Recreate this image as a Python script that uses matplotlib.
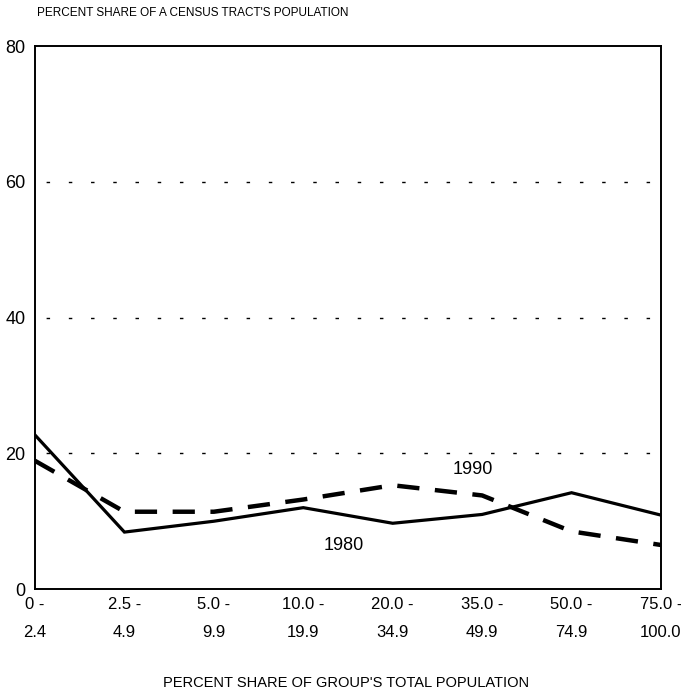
import numpy as np
import matplotlib.pyplot as plt

plt.rcParams['font.family'] = ['Liberation Sans Narrow', 'Liberation Sans', 'DejaVu Sans']

# data
categories = ["0 -\n2.4", "2.5 -\n4.9", "5.0 -\n9.9", "10.0 -\n19.9",
              "20.0 -\n34.9", "35.0 -\n49.9", "50.0 -\n74.9", "75.0 -\n100.0"]
share_1980 = [22.7, 8.4, 10.0, 12.0, 9.7, 11.0, 14.2, 10.9]
share_1990 = [18.9, 11.4, 11.4, 13.2, 15.3, 13.8, 8.5, 6.5]
y_ticks = [0, 20, 40, 60, 80]

x = np.arange(len(categories))

fig = plt.figure(figsize=(6.81, 6.98), dpi=100)
ax = fig.add_axes([0.0514, 0.156, 0.9192, 0.778])

# sparse dotted gridlines
for yv in y_ticks[1:-1]:
    ax.axhline(yv, color="black", lw=1.0, linestyle=(8, (2.5, 13.5)), zorder=1)

ax.plot(x, share_1980, color="black", lw=2.3, solid_joinstyle="miter", zorder=3)
ax.plot(x, share_1990, color="black", lw=3.2, linestyle=(0, (5.0, 3.5)), zorder=3)

ax.text(4.9, 17.6, "1990", fontsize=13, ha="center", va="center")
ax.text(3.45, 6.4, "1980", fontsize=13, ha="center", va="center")

ax.set_xlim(0, 7)
ax.set_ylim(0, 80)
ax.set_xticks(x)
ax.set_xticklabels(categories, fontsize=12, linespacing=2.05)
ax.set_yticks(y_ticks)
ax.set_yticklabels([str(v) for v in y_ticks], fontsize=13)
ax.tick_params(length=0, pad=7)
ax.tick_params(axis="x", pad=6)

for s in ax.spines.values():
    s.set_linewidth(1.4)

fig.text(0.054, 0.982, "PERCENT SHARE OF A CENSUS TRACT'S POPULATION",
         fontsize=8.5, ha="left", va="center")
fig.text(0.508, 0.021, "PERCENT SHARE OF GROUP'S TOTAL POPULATION",
         fontsize=10.5, ha="center", va="center")

fig.savefig("out.png", dpi=100)
